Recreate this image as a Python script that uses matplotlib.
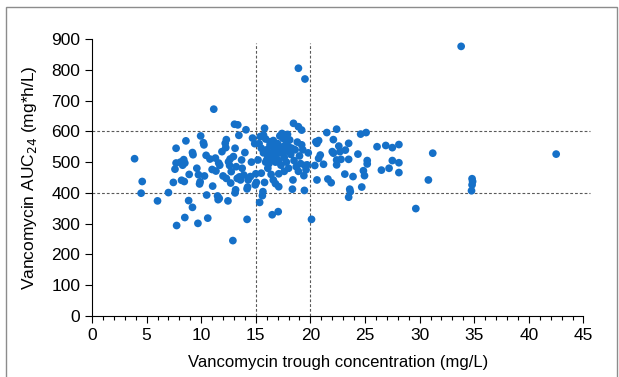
import numpy as np
import matplotlib.pyplot as plt
from matplotlib.patches import Rectangle

plt.rcParams['font.family'] = ['Liberation Sans', 'DejaVu Sans']

# trough concentration (mg/L) and AUC24 (mg*h/L)
trough = [
    3.9, 4.6, 4.5, 6.0, 7.0, 7.45, 7.6, 7.7, 7.7, 7.75, 8.1, 8.3, 8.4, 8.5, 8.2,
    8.45, 8.6, 8.5, 8.85, 8.9, 9.2, 9.25, 9.2, 9.6, 9.75, 9.85, 9.9, 9.7, 9.95,
    10.2, 10.25, 10.3, 10.45, 10.5, 10.6, 10.8, 11.0, 11.05, 11.15, 11.3, 11.35,
    11.5, 11.55, 11.65, 11.6, 11.7, 11.9, 12.0, 12.2, 12.3, 12.25, 12.3, 12.45,
    12.5, 12.6, 12.65, 12.7, 12.75, 12.9, 12.95, 13.05, 13.1, 13.1, 13.15, 13.2,
    13.3, 13.35, 13.45, 13.5, 13.6, 13.7, 13.75, 13.9, 14.0, 14.1, 14.2, 14.25,
    14.2, 14.3, 14.5, 14.6, 14.7, 14.9, 14.95, 15.0, 15.05, 15.2, 15.35, 15.5,
    15.6, 15.65, 15.4, 15.7, 15.8, 15.8, 16.0, 16.3, 16.5, 16.6, 16.6, 16.8,
    17.05, 17.1, 17.1, 17.4, 17.5, 17.8, 18.1, 18.35, 18.4, 18.45, 18.9, 18.9,
    19.2, 19.2, 19.5, 19.4, 19.45, 19.5, 19.7, 20.1,
    15.3, 15.5, 15.7, 15.9, 16.0, 16.1, 16.2, 16.3, 16.4, 16.5, 16.6, 16.7,
    16.8, 16.9, 17.0, 17.0, 17.1, 17.2, 17.3, 17.3, 17.5, 17.6, 17.7, 17.8,
    17.9, 18.0, 18.0, 18.2, 18.3, 18.5, 18.6, 18.7, 18.8, 19.0, 19.1, 19.3,
    19.6, 19.8, 16.4, 16.1, 15.9, 17.6, 18.9,
    20.4, 20.5, 20.6, 20.6, 20.75, 20.75, 20.9, 21.2, 21.5, 21.6, 21.9, 22.0,
    22.1, 22.1, 22.4, 22.4, 22.4, 22.6, 22.7, 22.8, 23.15, 23.2, 23.5, 23.5,
    23.5, 23.6, 23.65, 23.9, 24.35, 24.6, 24.7, 24.85, 24.95, 25.1, 25.2, 25.2,
    26.1, 26.5, 26.9, 27.2, 27.5, 27.5, 28.1, 28.1, 28.1, 29.65, 30.8, 31.2,
    33.8, 34.8, 34.85, 34.8, 34.75, 42.5,
]
auc24 = [
    511, 437, 399, 374, 401, 434, 477, 497, 545, 294, 500, 490, 508, 497, 441,
    437, 569, 320, 375, 460, 531, 524, 353, 480, 459, 429, 436, 301, 585,
    563, 556, 455, 522, 393, 318, 510, 476, 422, 672, 513, 471,
    390, 378, 382, 497, 490, 534, 455, 561, 573, 547, 447, 374,
    501, 489, 510, 432, 469, 245, 518, 623, 545, 400, 410, 485,
    447, 621, 587, 452, 442, 507, 480, 458, 531, 605, 413, 419,
    314, 442, 453, 500, 578, 560, 426, 462, 434, 507, 369, 464,
    391, 404, 583, 588, 610, 434, 507, 566, 329, 550, 442, 430,
    339, 462, 420, 593, 577, 561, 572, 412, 442, 626, 805, 615,
    604, 556, 770, 456, 408, 489, 491, 314,
    560, 545, 530, 575, 540, 520, 495, 555, 530, 510, 570, 545,
    500, 525, 560, 540, 505, 585, 530, 490, 550, 515, 535, 500,
    590, 550, 480, 525, 545, 505, 540, 485, 565, 520, 495, 540,
    475, 530, 460, 480, 500, 470, 470,
    489, 566, 442, 561, 570, 512, 523, 493, 596, 445, 433, 534,
    529, 573, 607, 491, 507, 552, 534, 509, 461, 539, 509, 561,
    386, 412, 404, 453, 526, 591, 419, 472, 456, 596, 505, 494,
    550, 474, 554, 480, 547, 505, 557, 498, 466, 349, 442, 529,
    876, 446, 437, 426, 407, 526,
]

x_ticks = np.arange(0, 46, 5)
y_ticks = np.arange(0, 901, 100)
trough_cuts = [15, 20]
auc_cuts = [400, 600]

fig = plt.figure(figsize=(6.19, 3.77), dpi=100)
# grey frame round the figure
fig.patches.append(Rectangle((6 / 619, -0.05), 611 / 619, 1.05 - 7 / 377,
                             transform=fig.transFigure, fill=False,
                             edgecolor='#8c8c8c', linewidth=1.0))

ax = fig.add_axes([0.1486, 0.1618, 0.7940, 0.7348])

for c in trough_cuts:
    ax.plot([c, c], [0, 887], ls=(0, (2.5, 1.8)), color='#595959', lw=0.8,
            clip_on=False, zorder=1)
for c in auc_cuts:
    ax.plot([0, 45.6], [c, c], ls=(0, (2.5, 1.8)), color='#595959', lw=0.8,
            clip_on=False, zorder=1)

ax.scatter(trough, auc24, s=31, color='#1570c8', edgecolors='none', zorder=3)

ax.set_xlim(0, 45)
ax.set_ylim(0, 900)
ax.set_xticks(x_ticks)
ax.set_yticks(y_ticks)
ax.set_xticks(np.arange(0, 46, 1), minor=True)
ax.tick_params(axis='both', which='major', direction='out', length=5,
               width=0.8, labelsize=12.5, colors='black')
ax.tick_params(axis='x', which='minor', direction='out', length=3, width=0.8)
for s in ['top', 'right']:
    ax.spines[s].set_visible(False)
for s in ['left', 'bottom']:
    ax.spines[s].set_linewidth(0.8)

ax.set_xlabel('Vancomycin trough concentration (mg/L)', fontsize=12, labelpad=9)
ax.set_ylabel('Vancomycin AUC$_{24}$ (mg*h/L)', fontsize=12.5, labelpad=9)

fig.savefig('out.png', dpi=100)
